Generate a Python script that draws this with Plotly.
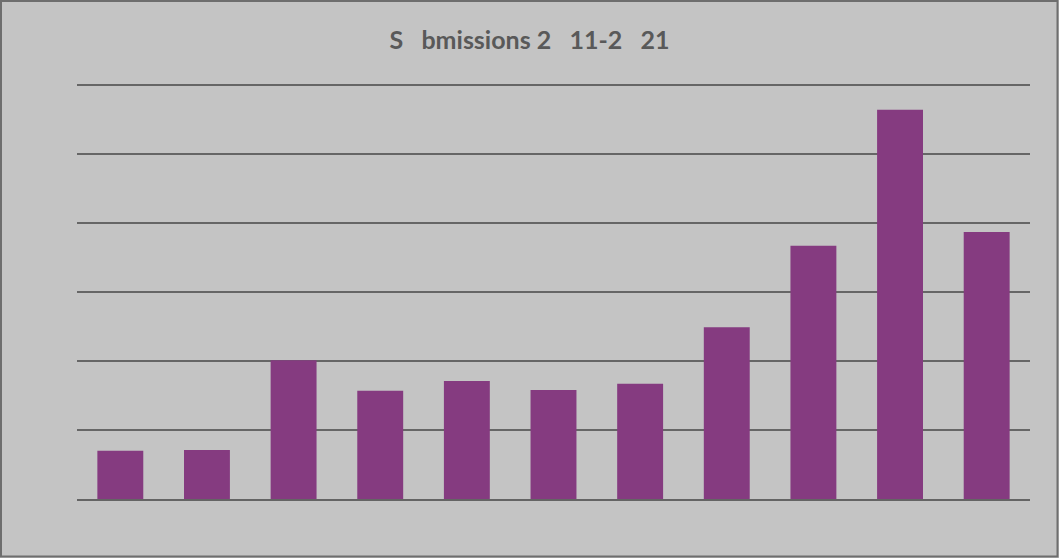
import plotly.graph_objects as go

years = ["2011", "2012", "2013", "2014", "2015", "2016", "2017", "2018", "2019", "2020", "2021"]
submissions = [70, 71, 201, 157, 171, 158, 167, 249, 367, 564, 387]
title_text = "S\u00a0\u00a0\u00a0bmissions 2\u00a0\u00a0\u00a011-2\u00a0\u00a0\u00a021"

W, H = 1059, 558
L, R, T, B = 77, 29, 84, 59
pw, ph = W - L - R, H - T - B
YMAX = 601.5  # so the 600 gridline is drawn just inside the plot area

def px(x):
    return (x - L) / pw

def py(y):
    return (H - B - y) / ph

fig = go.Figure(go.Bar(
    x=years, y=submissions,
    marker=dict(color="#853B80", line=dict(width=0)),
))

fig.update_layout(
    width=W, height=H,
    margin=dict(l=L, r=R, t=T, b=B),
    paper_bgcolor="#c4c4c4", plot_bgcolor="#c4c4c4",
    bargap=0.47,
    showlegend=False,
    title=dict(text=title_text, x=0.5, xref="container", xanchor="center",
               y=1 - 40 / H, yanchor="middle",
               font=dict(family="Lato", size=25, color="#595959", weight="bold")),
    xaxis=dict(showticklabels=False, showgrid=False, ticks="",
               showline=True, linecolor="#646464", linewidth=2.2, zeroline=False),
    yaxis=dict(range=[0, YMAX], tickvals=[100, 200, 300, 400, 500, 600],
               showticklabels=False, ticks="",
               showgrid=True, gridcolor="#666666", gridwidth=1.6, zeroline=False),
    shapes=[dict(type="rect", xref="paper", yref="paper",
                 x0=px(1), x1=px(W - 1.5), y0=py(H - 1.5), y1=py(1),
                 line=dict(color="#6e6e6e", width=2), layer="below")],
)

fig.write_html("out.html", config={"displayModeBar": False},
               post_script="document.body.style.margin='0';document.body.style.overflow='hidden';")
